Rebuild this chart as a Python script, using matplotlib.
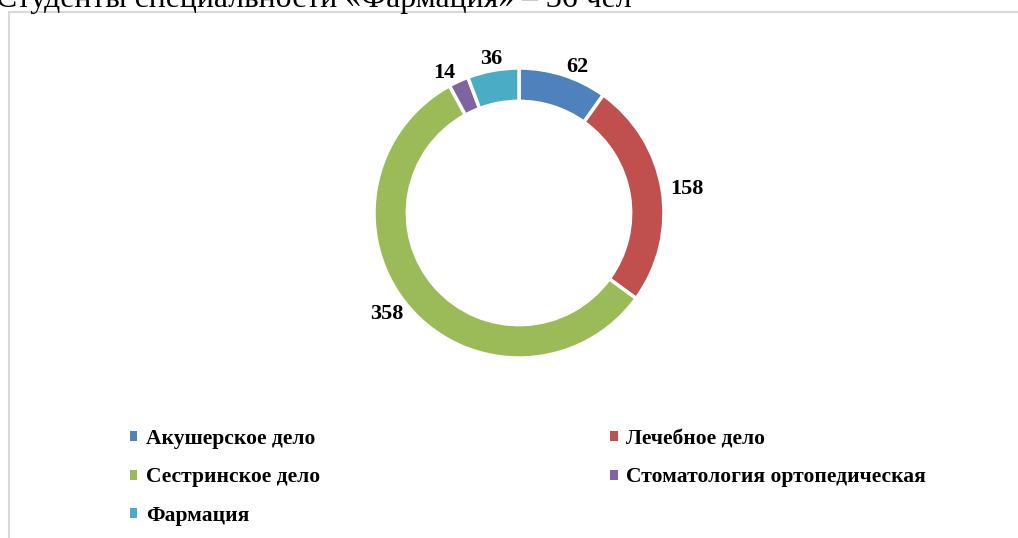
import numpy as np
import matplotlib.pyplot as plt
from matplotlib.patches import Patch, Rectangle

categories = ["Акушерское дело", "Лечебное дело", "Сестринское дело",
              "Стоматология ортопедическая", "Фармация"]
counts = [62, 158, 358, 14, 36]
colors = ["#4F81BD", "#C0504D", "#9BBB59", "#8064A2", "#4BACC6"]
title_text = "Студенты специальности «Фармация» – 36 чел"

W, H = 1018, 538
fig = plt.figure(figsize=(W / 100, H / 100), dpi=100)
serif = ["Liberation Serif", "DejaVu Serif"]

# chart area border (top + left edges visible, the rest is off-canvas)
fig.add_artist(Rectangle((9 / W, -0.1), 1.2, 1 - 12.5 / H + 0.1,
                         transform=fig.transFigure, fill=False,
                         edgecolor="#D9D9D9", linewidth=1.5))

# clipped heading from the document above the chart
fig.text(-4 / W, 1 - 7 / H, title_text, fontsize=22.9, family=serif,
         va="baseline", ha="left")

# donut: centre at (519, 213) px, outer radius 145 px
lim = 1.25
R = 145
cx, cy = 519, 213
side = 2 * lim * R
ax = fig.add_axes([(cx - side / 2) / W, (H - cy - side / 2) / H, side / W, side / H])
wedges, _ = ax.pie(counts, colors=colors, startangle=90, counterclock=False,
                   radius=1.0, wedgeprops=dict(width=0.23, edgecolor="white", linewidth=2.5))
ax.set_xlim(-lim, lim)
ax.set_ylim(-lim, lim)
ax.set_aspect("equal")
ax.axis("off")

# value labels just outside the ring
total = sum(counts)
cum = 0
for v in counts:
    mid = 90 - (cum + v / 2) / total * 360
    cum += v
    a = np.deg2rad(mid)
    x, y = np.cos(a), np.sin(a)
    r = 1.06
    if abs(x) < 0.2:
        ha = "center"
        r = 1.08
    elif x > 0:
        ha = "left"
    else:
        ha = "right"
    ax.text(r * x, r * y, str(v), ha=ha, va="center", fontsize=16,
            fontweight="bold", family=serif)

# legend, two columns filled row by row
order = [0, 2, 4, 1, 3]
handles = [Patch(facecolor=colors[i], edgecolor="none") for i in order]
labels = [categories[i] for i in order]
leg = fig.legend(handles, labels, ncol=2, loc="upper left",
                 bbox_to_anchor=(130 / W, 1 - 429 / H), frameon=False,
                 prop=dict(family=serif, weight="bold", size=15.5),
                 handlelength=0.33, handleheight=0.33, handletextpad=0.4,
                 labelspacing=0.85, columnspacing=13.5, borderpad=0, borderaxespad=0)

fig.savefig("out.png", dpi=100)
